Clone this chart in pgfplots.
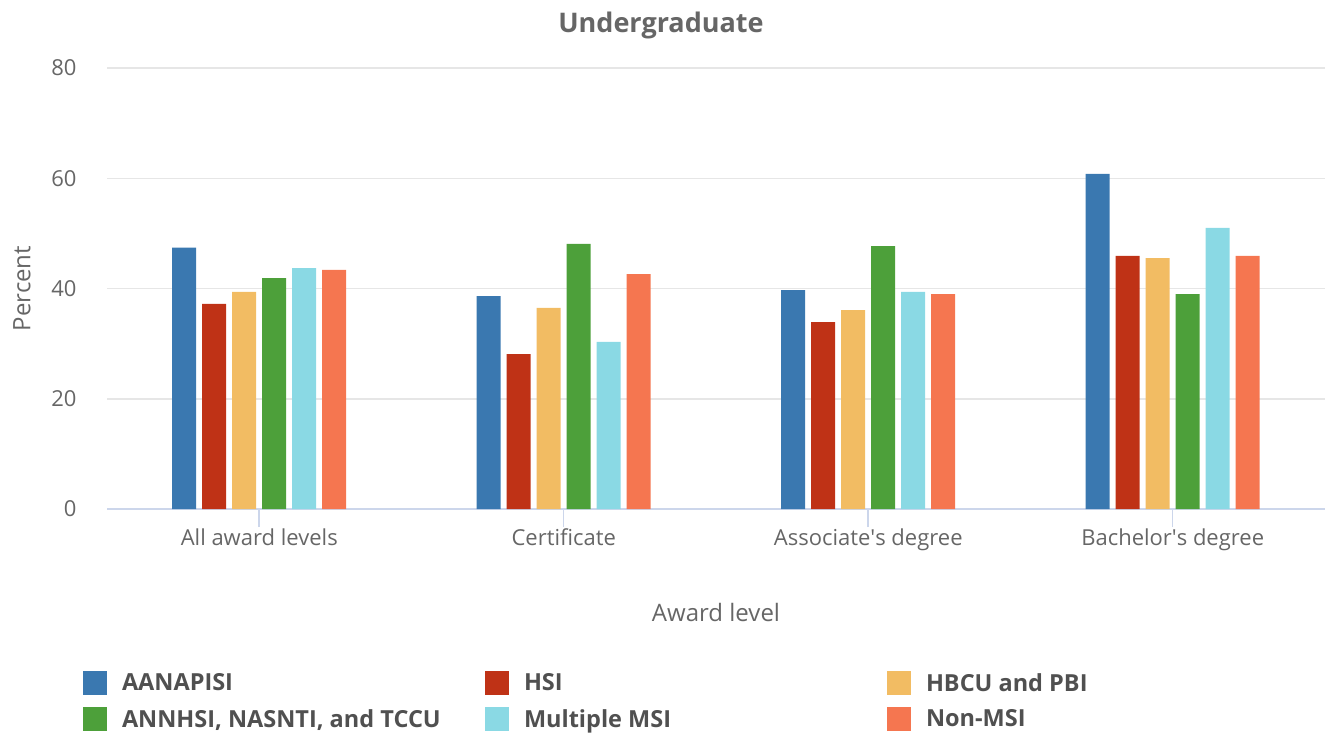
\documentclass[border=0pt]{standalone}
\usepackage{fontspec}
\setmainfont{Open Sans}
\usepackage{pgfplots}
\pgfplotsset{compat=1.18}
\definecolor{c1}{RGB}{58,120,176}
\definecolor{c2}{RGB}{191,50,22}
\definecolor{c3}{RGB}{242,188,99}
\definecolor{c4}{RGB}{77,160,58}
\definecolor{c5}{RGB}{138,217,228}
\definecolor{c6}{RGB}{245,118,80}
\definecolor{txt}{RGB}{102,102,102}
\definecolor{legtxt}{RGB}{80,80,80}
\definecolor{gridc}{RGB}{230,230,230}
\definecolor{axc}{RGB}{204,214,235}
\begin{document}
\begin{tikzpicture}
\useasboundingbox (0,0) rectangle (1330pt,734pt);
\begin{axis}[
  at={(107pt,225pt)}, anchor=south west,
  scale only axis, width=1218pt, height=441pt,
  ybar=6pt, bar width=24pt,
  xmin=-0.5, xmax=3.5, ymin=0, ymax=80,
  xtick={0,1,2,3},
  xticklabels={All award levels, Certificate, Associate\textquotesingle s degree, Bachelor\textquotesingle s degree},
  ytick={0,20,40,60,80},
  axis x line*=bottom, axis y line*=left,
  y axis line style={draw=none},
  x axis line style={draw=axc, line width=2pt},
  ytick style={draw=none},
  xtick style={draw=axc, line width=1.5pt},
  tick align=outside, major tick length=18pt,
  ymajorgrids, grid style={draw=gridc, line width=1.5pt},
  /pgf/number format/assume math mode=true,
  ticklabel style={font=\fontsize{22}{26}\selectfont, text=txt},
  yticklabel style={xshift=-9pt},
  xticklabel style={yshift=2pt},
  title={Undergraduate},
  title style={at={(axis description cs:0.4548,1.0836)}, anchor=center, font=\fontsize{27}{32}\selectfont\bfseries, text=txt},
  xlabel={Award level},
  ylabel={Percent},
  every axis x label/.style={at={(axis description cs:0.5,-0.2358)}, anchor=center, font=\fontsize{24}{28}\selectfont, text=txt},
  every axis y label/.style={at={(axis description cs:-0.0698,0.5)}, rotate=90, anchor=center, font=\fontsize{24}{28}\selectfont, text=txt},
  legend columns=3,
  legend image code/.code={\fill[#1, draw=none] (0pt,-12pt) rectangle (24pt,12pt);},
  legend style={draw=none, fill=none, inner sep=0pt, outer sep=0pt,
    at={(axis description cs:-0.0197,-0.367)}, anchor=north west,
    font=\fontsize{23.5}{28}\selectfont\bfseries, text=legtxt,
    nodes={inner sep=0pt, anchor=west},
    row sep=12pt,
    /tikz/every odd column/.append style={column sep=15pt},
    /tikz/every even column/.append style={column sep=0pt}},
]
\addplot[fill=c1, draw=none] coordinates {(0,47.4) (1,38.6) (2,39.7) (3,60.8)};
\addlegendentry{\makebox[363pt][l]{AANAPISI}}
\addplot[fill=c2, draw=none] coordinates {(0,37.2) (1,28.1) (2,33.9) (3,45.9)};
\addlegendentry{\makebox[363pt][l]{HSI}}
\addplot[fill=c3, draw=none] coordinates {(0,39.4) (1,36.5) (2,36.1) (3,45.5)};
\addlegendentry{\makebox[363pt][l]{HBCU and PBI}}
\addplot[fill=c4, draw=none] coordinates {(0,41.9) (1,48.1) (2,47.7) (3,39.0)};
\addlegendentry{\makebox[363pt][l]{ANNHSI, NASNTI, and TCCU}}
\addplot[fill=c5, draw=none] coordinates {(0,43.7) (1,30.3) (2,39.4) (3,51.0)};
\addlegendentry{\makebox[363pt][l]{Multiple MSI}}
\addplot[fill=c6, draw=none] coordinates {(0,43.4) (1,42.6) (2,39.0) (3,45.9)};
\addlegendentry{\makebox[363pt][l]{Non-MSI}}
\end{axis}
\end{tikzpicture}
\end{document}
